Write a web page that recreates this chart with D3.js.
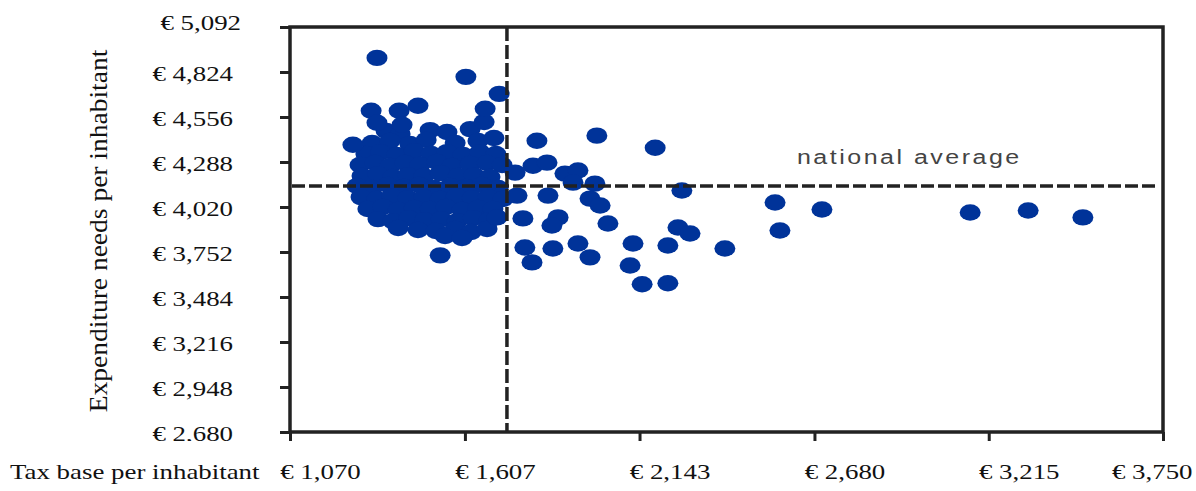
<!DOCTYPE html>
<html lang="en">
<head>
<meta charset="UTF-8">
<title>Tax base vs expenditure needs per inhabitant</title>
<script src="https://d3js.org/d3.v7.min.js"></script>
<style>
    body { margin: 0; background: #fff; }
    svg { display: block; }
    .tick text {
        font-family: "Liberation Serif", "Times New Roman", serif;
        font-size: 21.5px;
        fill: #111;
    }
    .axis-title {
        font-family: "Liberation Serif", "Times New Roman", serif;
        fill: #111;
    }
    .avg-label {
        font-family: "Liberation Sans", Arial, sans-serif;
        font-size: 20px;
        letter-spacing: 2px;
        fill: #444;
    }
</style>
</head>
<body>
<svg id="chart" width="1196" height="491"></svg>
<script>
// tick values as printed on the axes
const xTicks = [1070, 1607, 2143, 2680, 3215, 3750];
const yTicks = [2680, 2948, 3216, 3484, 3752, 4020, 4288, 4556, 4824, 5092];

// national averages (dashed lines)
const avgTaxBase = 1736;
const avgExpenditure = 4145;

// [tax base, expenditure needs] per municipality - dense group left of the average
const clusterPoints = [
    [1365,4473],[1408,4455],[1500,4478],[1552,4467],[1623,4484],[1666,4526],
    [1322,4401],[1377,4413],[1438,4395],[1488,4419],[1577,4401],[1647,4413],[1696,4431],
    [1303,4336],[1349,4347],[1398,4330],[1451,4353],[1503,4336],[1552,4347],[1601,4330],[1653,4347],[1702,4336],
    [1285,4270],[1331,4282],[1377,4264],[1423,4282],[1469,4270],[1521,4288],[1567,4264],[1623,4276],[1675,4282],[1721,4270],
    [1291,4205],[1340,4216],[1386,4199],[1432,4210],[1481,4205],[1531,4222],[1586,4205],[1635,4210],[1684,4199],
    [1276,4145],[1322,4133],[1371,4151],[1420,4139],[1466,4151],[1512,4133],[1561,4145],[1610,4139],[1659,4151],[1709,4133],
    [1288,4079],[1337,4068],[1383,4085],[1432,4073],[1481,4079],[1531,4068],[1580,4085],[1629,4073],[1678,4079],[1724,4068],
    [1309,4008],[1355,4020],[1402,4002],[1451,4014],[1500,4008],[1549,4020],[1598,4002],[1647,4014],[1693,4008],
    [1340,3948],[1386,3936],[1435,3954],[1484,3942],[1534,3948],[1583,3936],[1632,3954],[1681,3942],
    [1402,3895],[1463,3883],[1518,3877],[1577,3889],[1626,3871],[1675,3889],
    [1546,3847],[1598,3835]
];

// the scattered municipalities
const otherPoints = [
    [1337,4908],[1610,4795],[1712,4694],[1319,4593],[1337,4522],[1405,4593],[1414,4510],
    [1463,4623],[1669,4605],[1263,4391],[1828,4415],[2012,4445],[2191,4373],[1816,4266],
    [1859,4284],[1761,4225],[1914,4219],[1954,4237],[1939,4165],[2006,4159],[2273,4118],
    [1767,4088],[1862,4088],[1991,4070],[2022,4029],[1785,3952],[1705,3958],[1893,3958],
    [1874,3910],[2046,3922],[2261,3898],[2298,3862],[1791,3779],[1813,3690],[1877,3773],
    [1954,3803],[1991,3720],[2123,3803],[2230,3791],[2114,3672],[2151,3560],[2230,3566],
    [2405,3773],[2559,4047],[2574,3880],[2703,4005],[3158,3987],[3336,3999],[3504,3958],
    [1531,3732]
];

const stretch = 1.25;   // the picture is wider than tall, text too
const margin = { top: 27, right: 33, bottom: 59, left: 290 };
const width = 1196 - margin.left - margin.right;
const height = 491 - margin.top - margin.bottom;
const ink = "#222";
const blue = "#003399";

const svg = d3.select("#chart");
const g = svg.append("g").attr("transform", `translate(${margin.left},${margin.top})`);

const x = d3.scaleLinear().domain([xTicks[0], xTicks[xTicks.length - 1]]).range([0, width]);
const y = d3.scaleLinear().domain([yTicks[0], yTicks[yTicks.length - 1]]).range([height, 0]);
const euro = d => "€ " + d3.format(",")(d);

// points
g.append("g")
    .selectAll("ellipse")
    .data(clusterPoints.concat(otherPoints))
    .join("ellipse")
    .attr("cx", d => x(d[0]))
    .attr("cy", d => y(d[1]))
    .attr("rx", 10.5)
    .attr("ry", 8.2)
    .attr("fill", blue);

// national average lines
g.append("line")
    .attr("x1", 2).attr("x2", width - 4)
    .attr("y1", y(avgExpenditure)).attr("y2", y(avgExpenditure))
    .attr("stroke", ink).attr("stroke-width", 3.5)
    .attr("stroke-dasharray", "13,4");

g.append("line")
    .attr("x1", x(avgTaxBase)).attr("x2", x(avgTaxBase))
    .attr("y1", 0).attr("y2", height)
    .attr("stroke", ink).attr("stroke-width", 3.5)
    .attr("stroke-dasharray", "14,4");

g.append("text")
    .attr("class", "avg-label")
    .attr("transform", `translate(${x(avgTaxBase) + 290},${y(avgExpenditure) - 22}) scale(${stretch},1)`)
    .text("national average");

// frame
g.append("rect")
    .attr("width", width).attr("height", height)
    .attr("fill", "none").attr("stroke", ink).attr("stroke-width", 3.5);

// y axis (bottom label is cut off in the original)
g.append("clipPath").attr("id", "yclip")
    .append("rect").attr("x", -300).attr("y", -100).attr("width", 400).attr("height", height + 109);

const yAxis = g.append("g")
    .attr("clip-path", "url(#yclip)")
    .call(d3.axisLeft(y).tickValues(yTicks).tickSize(10).tickFormat(euro));
yAxis.select(".domain").remove();
yAxis.selectAll(".tick line").attr("stroke", ink).attr("stroke-width", 3);
yAxis.selectAll(".tick text")
    .attr("x", 0).attr("dy", ".36em")
    .attr("text-anchor", "end")
    .attr("transform", (d, i) => i === yTicks.length - 1
        ? `translate(-49,-5) scale(${stretch},1)`
        : `translate(-57,1) scale(${stretch},1)`);

// x axis
const xAxis = g.append("g")
    .attr("transform", `translate(0,${height})`)
    .call(d3.axisBottom(x).tickValues(xTicks).tickSize(9).tickFormat(euro));
xAxis.select(".domain").remove();
xAxis.selectAll(".tick line").attr("stroke", ink).attr("stroke-width", 3);
xAxis.selectAll(".tick text")
    .attr("y", 0).attr("dy", 0)
    .attr("text-anchor", "middle")
    .attr("transform", function(d) {
        const w = this.getComputedTextLength() * stretch;
        let dx = 30;
        const right = x(d) + dx + w / 2;
        if (right > width + 29) dx -= right - (width + 29);
        return `translate(${dx},47) scale(${stretch},1)`;
    });

// axis titles
svg.append("text")
    .attr("class", "axis-title")
    .attr("font-size", 21.5)
    .attr("transform", `translate(10,${margin.top + height + 47}) scale(${stretch},1)`)
    .text("Tax base per inhabitant");

svg.append("text")
    .attr("class", "axis-title")
    .attr("font-size", 27.5)
    .attr("text-anchor", "middle")
    .attr("transform", `translate(107,231) scale(0.95,1) rotate(-90)`)
    .text("Expenditure needs per inhabitant");
</script>
</body>
</html>
